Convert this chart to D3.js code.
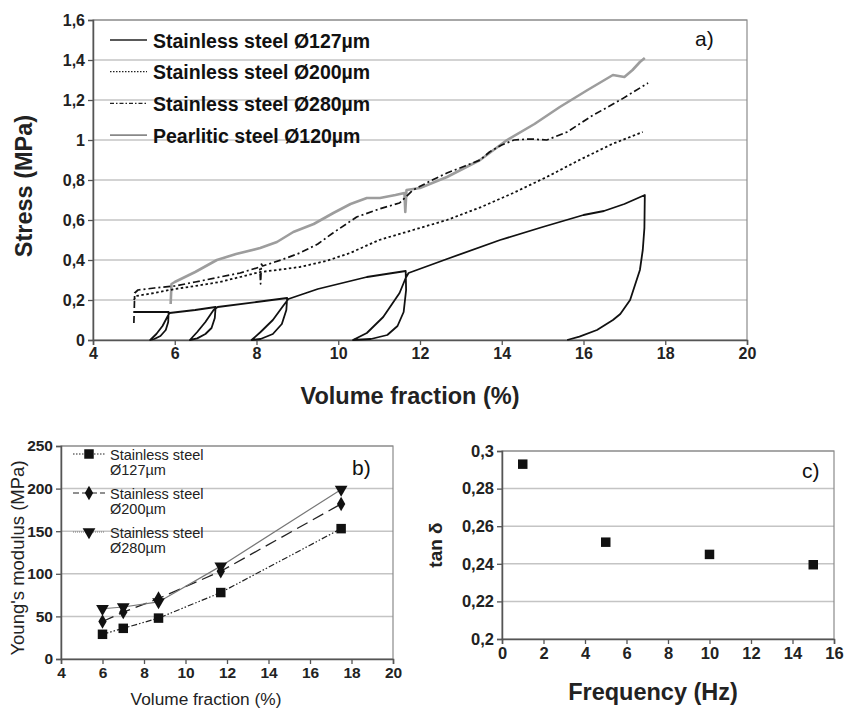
<!DOCTYPE html>
<html>
<head>
<meta charset="utf-8">
<script src="https://cdn.jsdelivr.net/npm/d3@7"></script>
<style>
  body { margin: 0; background: #fff; }
  svg { font-family: "Liberation Sans", Arial, sans-serif; }
</style>
</head>
<body>
<svg id="chart" width="845" height="714"></svg>
<script>
// ---- panel a: stress vs volume fraction (x = vol %, y = MPa)
const ss127 = [
  [5.0,0.14],[5.4,0.14],[5.85,0.14],
  [5.84,0.09],[5.78,0.05],[5.65,0.02],[5.5,0.005],[5.4,0],
  [5.55,0.03],[5.7,0.07],[5.83,0.12],[5.87,0.135],
  [6.5,0.15],[7.0,0.165],
  [6.98,0.11],[6.9,0.06],[6.75,0.03],[6.55,0.008],[6.37,0],
  [6.55,0.04],[6.75,0.09],[6.95,0.15],[7.05,0.165],
  [8.0,0.19],[8.75,0.21],
  [8.73,0.15],[8.62,0.08],[8.4,0.03],[8.1,0.005],[7.88,0],
  [8.1,0.04],[8.4,0.1],[8.65,0.17],[8.78,0.205],
  [9.5,0.255],[10.7,0.315],[11.65,0.345],
  [11.66,0.25],[11.6,0.14],[11.45,0.07],[11.2,0.025],[10.8,0.005],[10.36,0],
  [10.7,0.035],[11.1,0.115],[11.5,0.235],[11.65,0.31],[11.72,0.335],
  [12.66,0.405],[13.96,0.5],[15.0,0.565],[16.0,0.625],[16.5,0.645],[17.0,0.68],[17.5,0.725],
  [17.49,0.56],[17.45,0.45],[17.38,0.35],[17.14,0.2],[16.9,0.13],[16.72,0.1],[16.33,0.05],[15.9,0.017],[15.6,0]
];
const ss200 = [
  [5.0,0.2],[5.05,0.22],[5.5,0.235],[6.0,0.255],[6.5,0.27],[7.1,0.29],[7.6,0.315],[8.09,0.34],
  [8.5,0.35],[9.06,0.365],[9.7,0.395],[10.29,0.435],[11.0,0.5],[11.83,0.55],[12.66,0.6],
  [13.5,0.665],[14.28,0.735],[15.1,0.815],[15.9,0.9],[16.7,0.98],[17.45,1.04]
];
const ss280 = [
  [5.0,0.085],[5.02,0.235],[5.1,0.25],[5.5,0.26],[6.0,0.27],[6.5,0.29],[7.1,0.315],[7.6,0.335],
  [8.08,0.365],[8.1,0.28],[8.12,0.38],[8.15,0.37],
  [8.6,0.4],[9.06,0.435],[9.5,0.48],[9.87,0.535],[10.45,0.615],[11.0,0.655],[11.5,0.685],
  [11.83,0.75],[12.3,0.8],[12.66,0.835],[13.1,0.87],[13.47,0.9],[13.7,0.94],[14.0,0.975],
  [14.3,1.0],[14.7,1.005],[15.1,1.0],[15.6,1.04],[16.2,1.12],[16.9,1.2],[17.58,1.285]
];
const pearl120 = [
  [5.9,0.18],[5.92,0.28],[6.0,0.29],[6.5,0.34],[7.03,0.40],[7.5,0.43],[8.09,0.46],[8.5,0.49],
  [8.9,0.54],[9.4,0.58],[9.88,0.635],[10.3,0.68],[10.7,0.71],[11.02,0.71],[11.4,0.725],
  [11.62,0.735],[11.64,0.64],[11.67,0.75],[12.0,0.76],[12.66,0.815],[13.47,0.9],[14.13,1.0],
  [14.8,1.08],[15.42,1.165],[16.1,1.25],[16.72,1.325],[17.0,1.315],[17.2,1.35],[17.38,1.39],[17.5,1.41]
];
const legendA = ["Stainless steel Ø127µm", "Stainless steel Ø200µm", "Stainless steel Ø280µm", "Pearlitic steel Ø120µm"];

// ---- panel b: Young's modulus vs volume fraction
const volB = [6, 7, 8.7, 11.7, 17.5];
const eSS127 = [29, 36, 48, 78, 153];
const eSS200 = [44, 55, 71, 103, 182];
const eSS280 = [59, 61, 67, 109, 199];
const legendB = [["Stainless steel", "Ø127µm"], ["Stainless steel", "Ø200µm"], ["Stainless steel", "Ø280µm"]];

// ---- panel c: tan delta vs frequency
const freqC = [1, 5, 10, 15];
const tanC = [0.293, 0.2515, 0.245, 0.2395];

const svg = d3.select("#chart");
const FONT = '"Liberation Sans", Arial, sans-serif';
const comma = d => String(d).replace(".", ",");

// generic framed plot area with gridlines and axes
function frame (g, x, y, w, h, yTicks, xTicks, fs) {
  g.append("g").selectAll("line.grid")
    .data(yTicks.slice(1))
    .enter().append("line")
    .attr("x1", 0).attr("x2", w)
    .attr("y1", d => y(d)).attr("y2", d => y(d))
    .style("stroke", "#c4c4c4").style("stroke-width", 1.5);
  g.append("rect")
    .attr("width", w).attr("height", h)
    .style("fill", "none").style("stroke", "#8a8a8a").style("stroke-width", 1.2);
  const ya = g.append("g").call(d3.axisLeft(y).tickValues(yTicks).tickFormat(comma).tickSize(5).tickPadding(3));
  const xa = g.append("g").attr("transform", "translate(0," + h + ")")
    .call(d3.axisBottom(x).tickValues(xTicks).tickFormat(comma).tickSize(5).tickPadding(3));
  [ya, xa].forEach(a => {
    a.select(".domain").style("stroke", "#555").style("stroke-width", 1.5);
    a.selectAll(".tick line").style("stroke", "#555").style("stroke-width", 1.3);
    a.selectAll(".tick text")
      .style("font-family", FONT).style("font-weight", "bold")
      .style("font-size", fs + "px").style("fill", "#222");
  });
}

function label (txt, x, y, size, weight, rotate) {
  return svg.append("text")
    .attr("transform", "translate(" + x + "," + y + ")" + (rotate ? "rotate(-90)" : ""))
    .attr("text-anchor", "middle").text(txt)
    .style("font-size", size + "px").style("font-weight", weight).style("fill", "#222");
}

// ===== panel a
(function () {
  const m = { left: 93, top: 20, w: 654, h: 320 };
  const x = d3.scaleLinear().domain([4, 20]).range([0, m.w]);
  const y = d3.scaleLinear().domain([0, 1.6]).range([m.h, 0]);
  const g = svg.append("g").attr("transform", "translate(" + m.left + "," + m.top + ")");
  frame(g, x, y, m.w, m.h, d3.range(0, 1.61, 0.2).map(v => +v.toFixed(1)), d3.range(4, 21, 2), 16);

  const line = d3.line().x(d => x(d[0])).y(d => y(d[1]));
  const styles = [
    { data: ss127, stroke: "#111", width: 1.8, dash: null },
    { data: ss200, stroke: "#111", width: 1.8, dash: "2.5,2.5" },
    { data: ss280, stroke: "#111", width: 1.7, dash: "7,3,2,3" },
    { data: pearl120, stroke: "#9d9d9d", width: 2.6, dash: null }
  ];
  // gray one first so black curves sit over it
  [3, 0, 1, 2].forEach(i => {
    const s = styles[i];
    g.append("path").datum(s.data).attr("d", line)
      .style("fill", "none").style("stroke", s.stroke).style("stroke-width", s.width)
      .style("stroke-dasharray", s.dash).style("stroke-linejoin", "round");
  });

  const leg = g.append("g").attr("transform", "translate(17,20)");
  legendA.forEach((t, i) => {
    const r = leg.append("g").attr("transform", "translate(0," + (i * 31.7) + ")");
    r.append("line").attr("x1", 0).attr("x2", 37).attr("y1", 0).attr("y2", 0)
      .style("stroke", i === 3 ? "#888" : "#222").style("stroke-width", i === 3 ? 1.8 : 1.3)
      .style("stroke-dasharray", i === 1 ? "1.5,1.5" : (i === 2 ? "4,2,1.5,2" : null));
    r.append("text").attr("x", 43).attr("y", 7.5).text(t)
      .style("font-size", "19.5px").style("font-weight", "bold").style("fill", "#111");
  });
  g.append("text").attr("x", 602).attr("y", 26).text("a)").style("font-size", "21px").style("fill", "#111");

  label("Stress (MPa)", 32, 186, 23.5, "bold", true);
  label("Volume fraction (%)", 410, 404, 23.5, "bold", false);
})();

// ===== panel b
(function () {
  const m = { left: 61, top: 446, w: 332, h: 213 };
  const x = d3.scaleLinear().domain([4, 20]).range([0, m.w]);
  const y = d3.scaleLinear().domain([0, 250]).range([m.h, 0]);
  const g = svg.append("g").attr("transform", "translate(" + m.left + "," + m.top + ")");
  frame(g, x, y, m.w, m.h, d3.range(0, 251, 50), d3.range(4, 21, 2), 15.5);

  const series = [
    { vals: eSS127, stroke: "#222", width: 1.2, dash: "6,2,1.5,2,1.5,2", sym: d3.symbolSquare, size: 90 },
    { vals: eSS200, stroke: "#222", width: 1.3, dash: "12,6", sym: d3.symbolDiamond, size: 60 },
    { vals: eSS280, stroke: "#777", width: 1.2, dash: null, sym: d3.symbolTriangle, size: 70 }
  ];
  const line = d3.line().x((d, i) => x(volB[i])).y(d => y(d));
  series.forEach(s => {
    g.append("path").datum(s.vals).attr("d", line)
      .style("fill", "none").style("stroke", s.stroke).style("stroke-width", s.width)
      .style("stroke-dasharray", s.dash);
  });
  const rot = s => (s.sym === d3.symbolTriangle ? "rotate(180)" : "");
  series.forEach(s => {
    g.selectAll(null).data(s.vals).enter().append("path")
      .attr("d", d3.symbol().type(s.sym).size(s.size))
      .attr("transform", (d, i) => "translate(" + x(volB[i]) + "," + y(d) + ")" + rot(s))
      .style("fill", "#111");
  });

  const leg = g.append("g").attr("transform", "translate(12,8)");
  legendB.forEach((t, i) => {
    const s = series[i];
    const r = leg.append("g").attr("transform", "translate(0," + (i * 39) + ")");
    r.append("line").attr("x1", 0).attr("x2", 32).attr("y1", 0).attr("y2", 0)
      .style("stroke", s.stroke).style("stroke-width", 1.1)
      .style("stroke-dasharray", i === 0 ? "1.5,1.5" : (i === 1 ? "6,3" : "1,1"));
    r.append("path").attr("d", d3.symbol().type(s.sym).size(s.size))
      .attr("transform", "translate(16,0)" + rot(s)).style("fill", "#111");
    r.append("text").attr("x", 37).attr("y", 5.5).text(t[0]).style("font-size", "14.5px").style("fill", "#222");
    r.append("text").attr("x", 37).attr("y", 21).text(t[1]).style("font-size", "14.5px").style("fill", "#222");
  });
  g.append("text").attr("x", 291).attr("y", 29).text("b)").style("font-size", "21px").style("fill", "#111");

  label("Young's modulus (MPa)", 24, 558, 18.5, "normal", true);
  label("Volume fraction (%)", 206, 705, 17.3, "normal", false);
})();

// ===== panel c
(function () {
  const m = { left: 502, top: 451, w: 332, h: 188 };
  const x = d3.scaleLinear().domain([0, 16]).range([0, m.w]);
  const y = d3.scaleLinear().domain([0.2, 0.3]).range([m.h, 0]);
  const g = svg.append("g").attr("transform", "translate(" + m.left + "," + m.top + ")");
  frame(g, x, y, m.w, m.h, [0.2, 0.22, 0.24, 0.26, 0.28, 0.3], d3.range(0, 17, 2), 16.5);

  g.selectAll(null).data(freqC).enter().append("path")
    .attr("d", d3.symbol().type(d3.symbolSquare).size(90))
    .attr("transform", (d, i) => "translate(" + x(d) + "," + y(tanC[i]) + ")")
    .style("fill", "#111");
  g.append("text").attr("x", 300).attr("y", 27).text("c)").style("font-size", "21px").style("fill", "#111");

  label("tan δ", 442, 545, 19, "bold", true);
  label("Frequency (Hz)", 653, 700, 23.5, "bold", false);
})();
</script>
</body>
</html>
